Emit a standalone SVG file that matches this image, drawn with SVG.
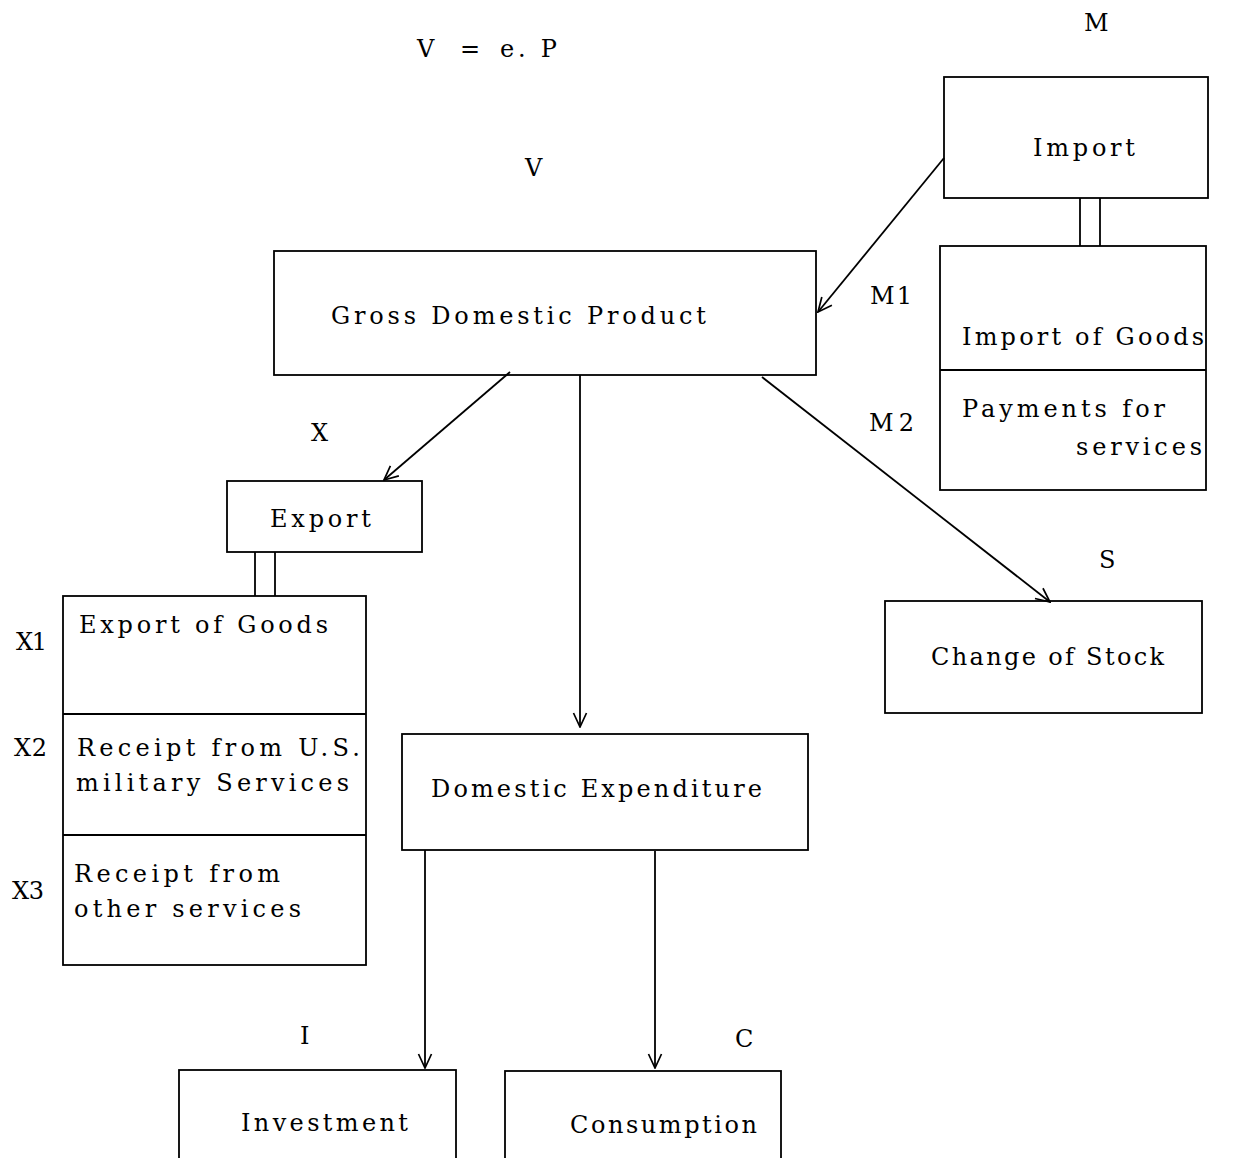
<svg xmlns="http://www.w3.org/2000/svg" width="1237" height="1158" viewBox="0 0 1237 1158">
<style>
.box{fill:none;stroke:#000;stroke-width:1.8}
.ln{fill:none;stroke:#000;stroke-width:1.8}
.t{font-family:"DejaVu Serif","Liberation Serif",serif;font-size:24px;fill:#000}
</style>
<defs>
<marker id="ah" viewBox="0 0 16 16" refX="15" refY="8" markerWidth="16" markerHeight="16" markerUnits="userSpaceOnUse" orient="auto">
<path d="M1,1.5 L15,8 L1,14.5" fill="none" stroke="#000" stroke-width="1.7"/>
</marker>
</defs>
<rect width="1237" height="1158" fill="#fff"/>

<g id="labels">
<text class="t" x="417" y="57">V</text>
<text class="t" x="460" y="57" font-size="14">=</text>
<text class="t" x="500" y="57" textLength="57" lengthAdjust="spacing">e. P</text>
<text class="t" x="1084" y="31">M</text>
<text class="t" x="525" y="176">V</text>
<text class="t" x="870" y="304" textLength="42" lengthAdjust="spacing">M1</text>
<text class="t" x="869" y="431" textLength="45" lengthAdjust="spacing">M2</text>
<text class="t" x="311" y="441">X</text>
<text class="t" x="1099" y="568">S</text>
<text class="t" x="16" y="650" textLength="31" lengthAdjust="spacing">X1</text>
<text class="t" x="14" y="756" textLength="33" lengthAdjust="spacing">X2</text>
<text class="t" x="12" y="899" textLength="32" lengthAdjust="spacing">X3</text>
<text class="t" x="300" y="1044">I</text>
<text class="t" x="735" y="1047">C</text>
</g>

<g id="gdp">
<rect class="box" x="274" y="251" width="542" height="124"/>
<text class="t" x="331" y="324" textLength="375" lengthAdjust="spacing">Gross Domestic Product</text>
</g>

<g id="import">
<rect class="box" x="944" y="77" width="264" height="121"/>
<text class="t" x="1033" y="156" textLength="102" lengthAdjust="spacing">Import</text>
</g>

<g id="import-detail">
<rect class="box" x="940" y="246" width="266" height="244"/>
<line class="ln" x1="940" y1="370" x2="1206" y2="370"/>
<text class="t" x="962" y="345" textLength="242" lengthAdjust="spacing">Import of Goods</text>
<text class="t" x="962" y="417" textLength="203" lengthAdjust="spacing">Payments for</text>
<text class="t" x="1076" y="455" textLength="126" lengthAdjust="spacing">services</text>
</g>

<g id="export">
<rect class="box" x="227" y="481" width="195" height="71"/>
<text class="t" x="270" y="527" textLength="101" lengthAdjust="spacing">Export</text>
</g>

<g id="export-detail">
<rect class="box" x="63" y="596" width="303" height="369"/>
<line class="ln" x1="63" y1="714" x2="366" y2="714"/>
<line class="ln" x1="63" y1="835" x2="366" y2="835"/>
<text class="t" x="79" y="633" textLength="249" lengthAdjust="spacing">Export of Goods</text>
<text class="t" x="77" y="756" textLength="283" lengthAdjust="spacing">Receipt from U.S.</text>
<text class="t" x="76" y="791" textLength="273" lengthAdjust="spacing">military Services</text>
<text class="t" x="74" y="882" textLength="206" lengthAdjust="spacing">Receipt from</text>
<text class="t" x="74" y="917" textLength="227" lengthAdjust="spacing">other services</text>
</g>

<g id="change-of-stock">
<rect class="box" x="885" y="601" width="317" height="112"/>
<text class="t" x="931" y="665" textLength="233" lengthAdjust="spacing">Change of Stock</text>
</g>

<g id="domestic-expenditure">
<rect class="box" x="402" y="734" width="406" height="116"/>
<text class="t" x="431" y="797" textLength="331" lengthAdjust="spacing">Domestic Expenditure</text>
</g>

<g id="investment">
<rect class="box" x="179" y="1070" width="277" height="100"/>
<text class="t" x="241" y="1131" textLength="167" lengthAdjust="spacing">Investment</text>
</g>

<g id="consumption">
<rect class="box" x="505" y="1071" width="276" height="100"/>
<text class="t" x="570" y="1133" textLength="187" lengthAdjust="spacing">Consumption</text>
</g>

<g id="connectors">
<line class="ln" x1="944" y1="158" x2="818" y2="312" marker-end="url(#ah)"/>
<line class="ln" x1="510" y1="372" x2="384" y2="480" marker-end="url(#ah)"/>
<line class="ln" x1="580" y1="375" x2="580" y2="727" marker-end="url(#ah)"/>
<line class="ln" x1="762" y1="377" x2="1050" y2="602" marker-end="url(#ah)"/>
<line class="ln" x1="425" y1="850" x2="425" y2="1068" marker-end="url(#ah)"/>
<line class="ln" x1="655" y1="851" x2="655" y2="1068" marker-end="url(#ah)"/>
<line class="ln" x1="1080" y1="198" x2="1080" y2="246" stroke-width="2.5"/>
<line class="ln" x1="1100" y1="198" x2="1100" y2="246" stroke-width="2.5"/>
<line class="ln" x1="255" y1="552" x2="255" y2="596" stroke-width="2.5"/>
<line class="ln" x1="275" y1="552" x2="275" y2="596" stroke-width="2.5"/>
</g>
</svg>
